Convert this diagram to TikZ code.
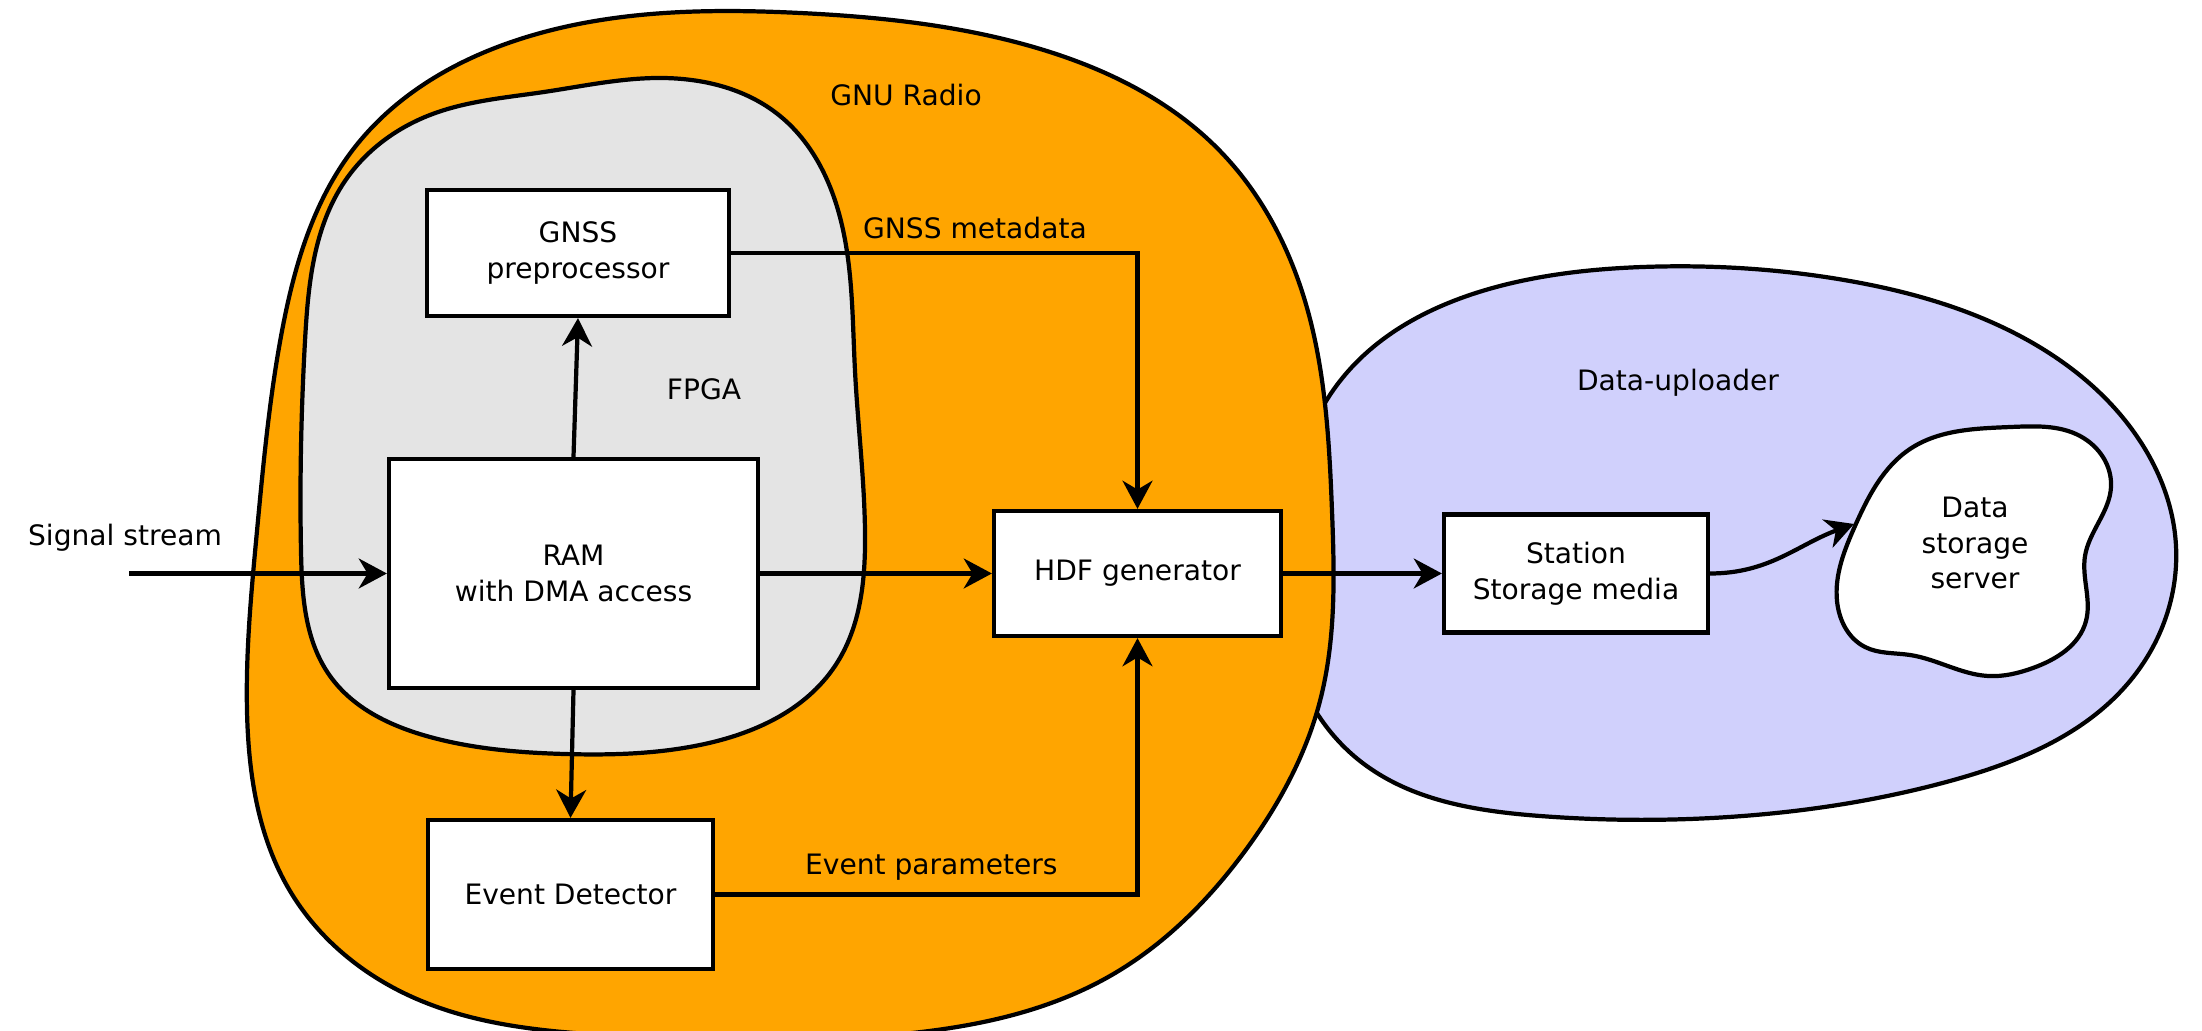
\documentclass[tikz,border=0pt]{standalone}
\usepackage{fontspec}
\setmainfont{DejaVu Sans}
\usetikzlibrary{arrows.meta, hobby}
\definecolor{radioorange}{RGB}{255,165,0}
\definecolor{fpgagray}{RGB}{228,228,228}
\definecolor{uploadblue}{RGB}{208,208,252}

\begin{document}
\begin{tikzpicture}[font=\fontsize{8}{10.2}\selectfont,
        box/.style={draw, fill=white, line width=1.2pt, align=center, inner sep=2pt},
        blob/.style={draw, line width=1.2pt},
        flow/.style={draw, line width=1.2pt, -{Stealth[length=8pt, width=8.5pt, inset=2.5pt]}}]

    \useasboundingbox (0,0) rectangle (22.02,10.31);

    % Data-uploader region
    \draw[blob, fill=uploadblue] plot[closed hobby] coordinates {
        (12.85,5.00) (13.40,6.50) (15.00,7.45) (16.43,7.64)
        (18.44,7.51) (20.20,6.95) (21.40,5.90) (21.76,4.85)
        (21.30,3.50) (19.50,2.50) (17.29,2.14)
        (15.40,2.15) (13.60,2.70) (12.90,3.80)};

    % GNU Radio region
    \draw[blob, fill=radioorange] plot[closed hobby] coordinates {
        (8.00,10.18) (10.30,9.85) (12.20,8.80) (13.05,7.30)
        (13.32,5.20) (13.20,3.30) (12.45,1.80) (11.10,0.55)
        (8.80,-0.05) (6.20,-0.05) (4.10,0.35) (2.90,1.40)
        (2.47,3.20) (2.57,5.00) (2.82,7.00) (3.55,8.84)
        (5.30,9.95)};

    % FPGA region
    \draw[blob, fill=fpgagray] plot[closed hobby] coordinates {
        (6.59,9.53) (7.80,9.15) (8.38,8.21) (8.55,6.60)
        (8.65,5.00) (8.35,3.65) (7.00,2.86) (5.64,2.77)
        (4.30,2.94) (3.30,3.55) (3.01,4.80) (3.05,6.90)
        (3.45,8.50) (4.30,9.16) (5.44,9.39)};

    % Storage server cloud
    \draw[blob, fill=white] plot[closed hobby] coordinates {
        (20.11,6.04) (20.80,5.95) (21.11,5.44) (20.85,4.75)
        (20.86,4.10) (20.33,3.63) (19.88,3.55) (19.10,3.76)
        (18.65,3.84) (18.37,4.30) (18.55,5.05) (19.10,5.82)};

    % Region labels
    \node (radiolbl) at (9.06,9.36) {GNU Radio};
    \node (fpgalbl) at (7.04,6.42) {FPGA};
    \node (uploadlbl) at (16.78,6.48) {Data-uploader};
    \node (siglbl) at (1.25,4.93) {Signal stream};
    \node[align=center] (server) at (19.75,4.88) {Data\\storage\\server};

    % Boxes
    \node[box, minimum width=3.02cm, minimum height=1.26cm] (gnss) at (5.78,7.78) {GNSS\\preprocessor};
    \node[box, minimum width=3.69cm, minimum height=2.29cm] (ram) at (5.735,4.575) {RAM\\with DMA access};
    \node[box, minimum width=2.85cm, minimum height=1.49cm] (evdet) at (5.705,1.365) {Event Detector};
    \node[box, minimum width=2.87cm, minimum height=1.25cm] (hdf) at (11.375,4.575) {HDF generator};
    \node[box, minimum width=2.64cm, minimum height=1.18cm] (station) at (15.76,4.575) {Station\\Storage media};

    \coordinate (sigin) at (1.29,4.575);
    \coordinate (srvin) at (18.54,5.07);

    % Connections
    \draw[flow] (sigin) -- (ram.west);
    \draw[flow] (ram.north) -- (gnss.south);
    \draw[flow] (ram.south) -- (evdet.north);
    \draw[flow] (ram.east) -- (hdf.west);
    \draw[flow] (gnss.east) -| node[above, pos=0.3] (metalbl) {GNSS metadata} (hdf.north);
    \draw[flow] (evdet.east) -| node[above, pos=0.256] (evlbl) {Event parameters} (hdf.south);
    \draw[flow] (hdf.east) -- (station.west);
    \draw[flow] (station.east) to[out=0, in=200] (srvin);
\end{tikzpicture}
\end{document}
